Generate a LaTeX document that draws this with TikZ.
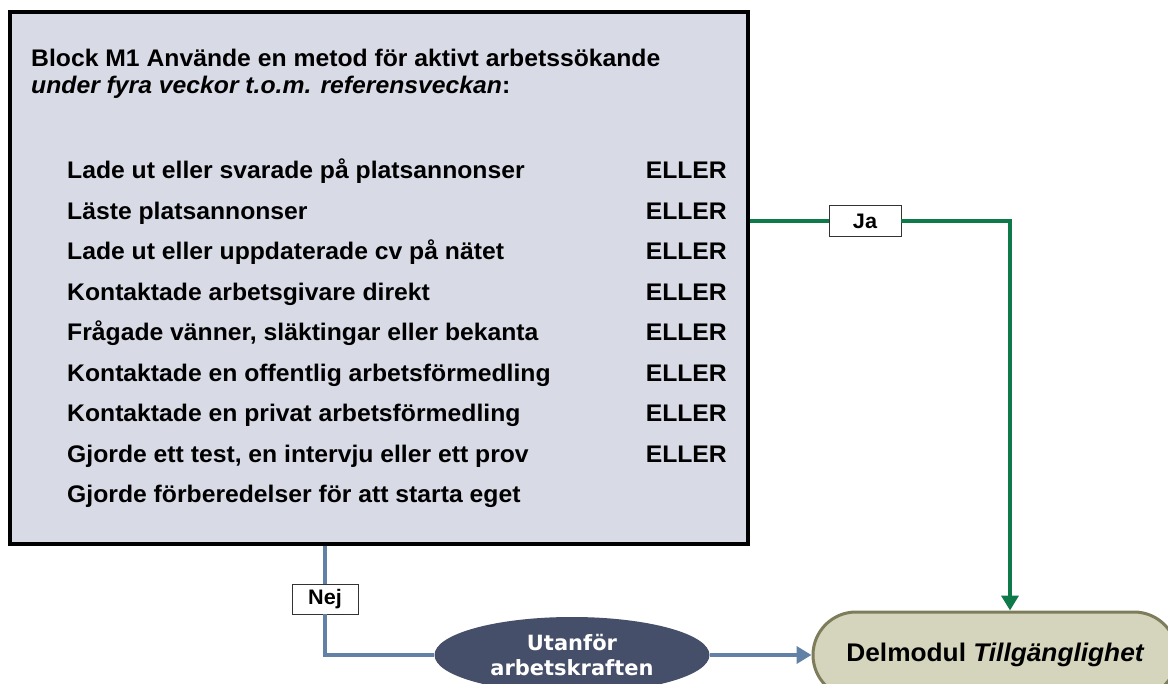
\documentclass[tikz,border=0pt]{standalone}
\usepackage{fontspec}
\setmainfont{Liberation Sans}[FakeStretch=1.03]
\newfontfamily\dejavu{DejaVu Sans}
\usetikzlibrary{arrows.meta,shapes.geometric,shapes.misc}
\definecolor{boxfill}{HTML}{D8DAE6}
\definecolor{jagreen}{HTML}{0E7A4A}
\definecolor{nejblue}{HTML}{6281A6}
\definecolor{ellfill}{HTML}{464F69}
\definecolor{delfill}{HTML}{D5D4BC}
\definecolor{delborder}{HTML}{7D7C5B}
\tikzset{
  blockbox/.style={draw=black, line width=4pt, fill=boxfill, inner sep=0pt},
  itemtext/.style={anchor=base west, inner sep=0pt, font=\fontsize{24}{28}\selectfont\bfseries},
  ellertext/.style={anchor=base east, inner sep=0pt, font=\fontsize{24}{28}\selectfont\bfseries},
  labelbox/.style={draw=black!80, line width=0.8pt, fill=white, inner sep=0pt, font=\fontsize{21}{24}\selectfont\bfseries},
  yesline/.style={draw=jagreen, line width=4.5pt},
  noline/.style={draw=nejblue, line width=4.5pt},
  tip/.style={-{Triangle[length=15pt,width=17pt]}}
}
\begin{document}
\begin{tikzpicture}[x=1pt,y=-1pt]
\useasboundingbox (0,0) rectangle (1168,684);
% main block
\node[blockbox, minimum width=738pt, minimum height=532pt] (block) at (379,278) {};
% title
\node[itemtext] (t1) at (31,67) {Block M1 Använde en metod för aktivt arbetssökande};
\node[itemtext] (t2) at (31,94) {\itshape under fyra veckor t.o.m. referensveckan\upshape:};
% items
\node[itemtext] (i1) at (67,179) {Lade ut eller svarade på platsannonser};
\node[itemtext] (i2) at (67,219.5) {Läste platsannonser};
\node[itemtext] (i3) at (67,260) {Lade ut eller uppdaterade cv på nätet};
\node[itemtext] (i4) at (67,300.5) {Kontaktade arbetsgivare direkt};
\node[itemtext] (i5) at (67,341) {Frågade vänner, släktingar eller bekanta};
\node[itemtext] (i6) at (67,381.5) {Kontaktade en offentlig arbetsförmedling};
\node[itemtext] (i7) at (67,422) {Kontaktade en privat arbetsförmedling};
\node[itemtext] (i8) at (67,462.5) {Gjorde ett test, en intervju eller ett prov};
\node[itemtext] (i9) at (67,503) {Gjorde förberedelser för att starta eget};
\foreach \n/\y in {1/179,2/219.5,3/260,4/300.5,5/341,6/381.5,7/422,8/462.5}
  \node[ellertext] (e\n) at (727,\y) {ELLER};
% label boxes
\node[labelbox, minimum width=72pt, minimum height=31pt] (ja) at (865,221) {Ja};
\node[labelbox, minimum width=66pt, minimum height=30pt] (nej) at (325,599) {Nej};
% targets
\node[ellipse, fill=ellfill, minimum width=275pt, minimum height=76pt, inner sep=0pt,
      text=white, align=center, font=\dejavu\bfseries\fontsize{21}{25}\selectfont] (utan) at (572,655) {Utanför\\arbetskraften};
\node[rounded rectangle, draw=delborder, line width=3pt, fill=delfill, minimum width=364pt,
      minimum height=86pt, inner sep=0pt, font=\fontsize{25.5}{28}\selectfont\bfseries] (delmod) at (995,655)
      {Delmodul \itshape Tillgänglighet};
\coordinate (jaend) at ([xshift=15pt]delmod.north);
% connectors
\draw[yesline] (block.east |- ja) -- (ja.west);
\draw[yesline, tip] (ja.east) -| (jaend);
\draw[noline] (block.south -| nej) -- (nej.north);
\draw[noline] (nej.south) |- (utan.west);
\draw[noline, tip] (utan.east) -- (delmod.west);
\end{tikzpicture}
\end{document}
